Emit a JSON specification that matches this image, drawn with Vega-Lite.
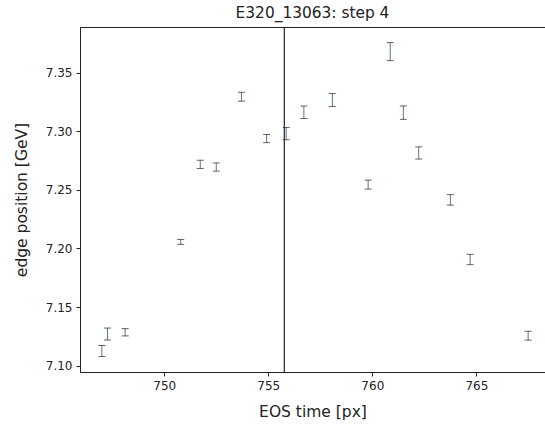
{
  "$schema": "https://vega.github.io/schema/vega-lite/v6.json",
  "autosize": {"type": "none"},
  "padding": {"left": 80, "top": 27, "right": 0, "bottom": 52},
  "width": 465,
  "height": 345,
  "background": "white",
  "title": {"text": "E320_13063: step 4", "fontSize": 15.4, "font": "DejaVu Sans", "fontWeight": "normal", "color": "#222", "anchor": "middle", "offset": 5},
  "config": {
    "view": {"stroke": null},
    "axis": {"grid": false, "domainColor": "#222", "tickColor": "#222", "labelColor": "#222", "titleColor": "#222", "labelFont": "DejaVu Sans", "titleFont": "DejaVu Sans", "labelFontSize": 12, "titleFontSize": 15.5, "titleFontWeight": "normal", "tickSize": 4, "labelPadding": 4}
  },
  "resolve": {"axis": {"x": "independent", "y": "independent"}},
  "data": {"values": [
    {"x": 747.0, "y": 7.1125, "lo": 7.1078, "hi": 7.1172},
    {"x": 747.27, "y": 7.127, "lo": 7.1219, "hi": 7.1321},
    {"x": 748.12, "y": 7.1285, "lo": 7.1254, "hi": 7.1316},
    {"x": 750.79, "y": 7.2056, "lo": 7.2035, "hi": 7.2077},
    {"x": 751.73, "y": 7.2718, "lo": 7.2683, "hi": 7.2753},
    {"x": 752.5, "y": 7.2695, "lo": 7.266, "hi": 7.273},
    {"x": 753.71, "y": 7.3295, "lo": 7.3257, "hi": 7.3333},
    {"x": 754.92, "y": 7.2938, "lo": 7.2903, "hi": 7.2973},
    {"x": 755.86, "y": 7.298, "lo": 7.2928, "hi": 7.3032},
    {"x": 756.71, "y": 7.3162, "lo": 7.3109, "hi": 7.3215},
    {"x": 758.08, "y": 7.3267, "lo": 7.3212, "hi": 7.3322},
    {"x": 759.8, "y": 7.2545, "lo": 7.2507, "hi": 7.2583},
    {"x": 760.86, "y": 7.368, "lo": 7.3603, "hi": 7.3757},
    {"x": 761.49, "y": 7.3159, "lo": 7.3102, "hi": 7.3216},
    {"x": 762.23, "y": 7.2815, "lo": 7.2763, "hi": 7.2867},
    {"x": 763.75, "y": 7.2415, "lo": 7.237, "hi": 7.246},
    {"x": 764.7, "y": 7.1906, "lo": 7.1862, "hi": 7.195},
    {"x": 767.49, "y": 7.1256, "lo": 7.1218, "hi": 7.1294}
  ]},
  "layer": [
    {
      "data": {"values": [{"t": 755.77}]},
      "mark": {"type": "rule", "color": "#222", "strokeWidth": 1.2},
      "encoding": {"x": {"field": "t", "type": "quantitative", "scale": {"domain": [745.95, 768.3], "nice": false, "zero": false}, "axis": {"orient": "top", "labels": false, "ticks": false, "title": null, "domain": true}}}
    },
    {
      "mark": {"type": "rule", "color": "#5a7590", "strokeWidth": 1},
      "encoding": {
        "x": {"field": "x", "type": "quantitative", "axis": {"values": [750, 755, 760, 765], "format": "d", "title": "EOS time [px]", "titlePadding": 13}},
        "y": {"field": "lo", "type": "quantitative", "scale": {"domain": [7.0946, 7.389], "nice": false, "zero": false}, "axis": {"values": [7.10, 7.15, 7.20, 7.25, 7.30, 7.35], "format": ".2f", "title": "edge position [GeV]", "titlePadding": 16}},
        "y2": {"field": "hi"}
      }
    },
    {
      "mark": {"type": "tick", "orient": "horizontal", "color": "#222", "size": 7, "thickness": 1},
      "encoding": {"x": {"field": "x", "type": "quantitative", "axis": null}, "y": {"field": "lo", "type": "quantitative", "axis": null}}
    },
    {
      "mark": {"type": "tick", "orient": "horizontal", "color": "#222", "size": 7, "thickness": 1},
      "encoding": {"x": {"field": "x", "type": "quantitative", "axis": null}, "y": {"field": "hi", "type": "quantitative", "axis": null}}
    }
  ]
}
